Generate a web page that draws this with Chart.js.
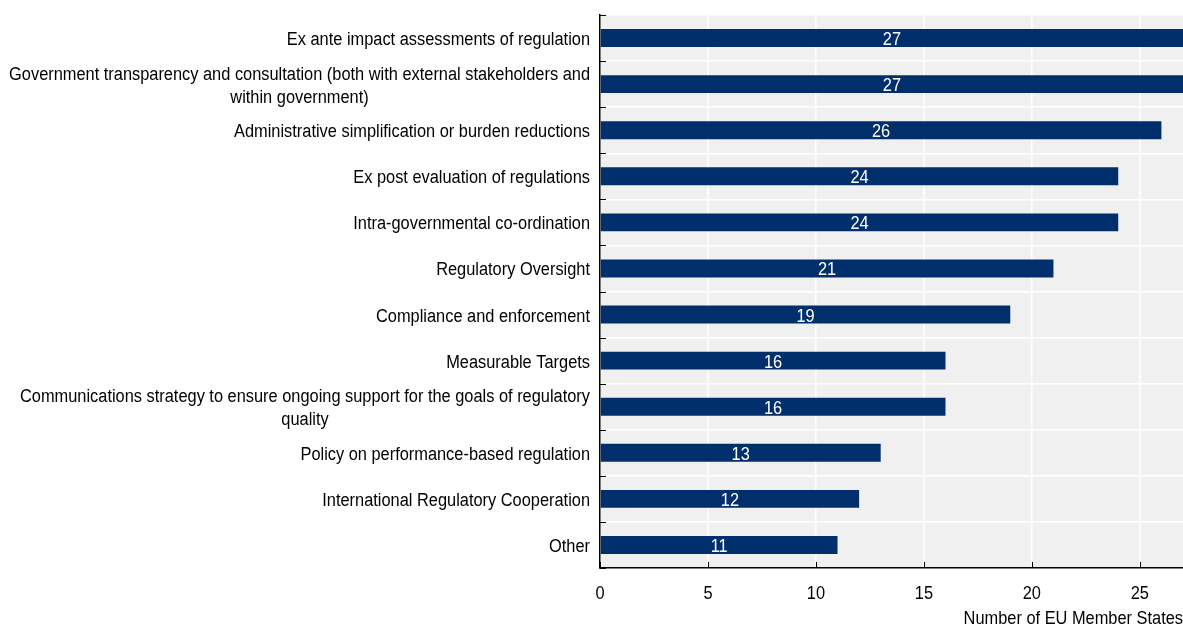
<!DOCTYPE html>
<html lang="en">
<head>
  <meta charset="UTF-8">
  <title>Regulatory policy areas</title>
  <style>
    body { margin: 0; background: #fff; }
    #chart { display: block; }
  </style>
</head>
<body>
  <canvas id="chart" width="1183" height="625"></canvas>

  <script src="https://cdn.jsdelivr.net/npm/chart.js"></script>
  <script>
    // categories (multi-line ones as arrays) and counts
    const categories = [
      'Ex ante impact assessments of regulation',
      ['Government transparency and consultation (both with external stakeholders and', 'within government)'],
      'Administrative simplification or burden reductions',
      'Ex post evaluation of regulations',
      'Intra-governmental co-ordination',
      'Regulatory Oversight',
      'Compliance and enforcement',
      'Measurable Targets',
      ['Communications strategy to ensure ongoing support for the goals of regulatory', 'quality'],
      'Policy on performance-based regulation',
      'International Regulatory Cooperation',
      'Other'
    ];
    const memberStates = [27, 27, 26, 24, 24, 21, 19, 16, 16, 13, 12, 11];
    const xTicks = [0, 5, 10, 15, 20, 25];
    const xTitle = 'Number of EU Member States';

    const FONT = '18px "Liberation Sans", Arial, sans-serif';
    const SQUEEZE = 0.91; // narrow the glyphs, like Arial Narrow
    const BAR = '#002F6C';
    const PLOT_BG = '#f0f0f0';

    // condensed text helper
    function narrowText(ctx, text, x, y, align) {
      ctx.save();
      ctx.translate(x, y);
      ctx.scale(SQUEEZE, 1);
      ctx.textAlign = align;
      ctx.fillText(text, 0, 0);
      ctx.restore();
    }

    // grey plot background
    const plotBackground = {
      id: 'plotBackground',
      beforeDraw(chart) {
        const { ctx, chartArea: a } = chart;
        ctx.save();
        ctx.fillStyle = PLOT_BG;
        ctx.fillRect(a.left, a.top, a.right - a.left, a.bottom - a.top);
        ctx.restore();
      }
    };

    // inward tick marks, all labels and the axis title
    const decorations = {
      id: 'decorations',
      afterDraw(chart) {
        const { ctx, chartArea: a } = chart;
        const x = chart.scales.x, y = chart.scales.y;
        ctx.save();

        // tick marks pointing into the plot
        ctx.strokeStyle = '#000';
        ctx.lineWidth = 1;
        ctx.beginPath();
        const step = (y.getPixelForTick(1) - y.getPixelForTick(0));
        for (let i = 0; i <= categories.length; i++) {
          const py = Math.round(y.getPixelForTick(0) - step / 2 + i * step) + 0.5;
          ctx.moveTo(a.left, py);
          ctx.lineTo(a.left + 6, py);
        }
        xTicks.forEach(v => {
          const px = Math.round(x.getPixelForValue(v)) + 0.5;
          ctx.moveTo(px, a.bottom);
          ctx.lineTo(px, a.bottom - 6);
        });
        ctx.stroke();

        ctx.font = FONT;
        ctx.fillStyle = '#000';
        ctx.textBaseline = 'middle';

        // category labels: block right-aligned, lines centred within it
        const lh = 23;
        categories.forEach((c, i) => {
          const lines = Array.isArray(c) ? c : [c];
          const widest = Math.max(...lines.map(l => ctx.measureText(l).width)) * SQUEEZE;
          const cx = a.left - 10 - widest / 2;
          const cy = y.getPixelForTick(i) + 2;
          lines.forEach((l, j) => {
            narrowText(ctx, l, cx, cy + (j - (lines.length - 1) / 2) * lh, 'center');
          });
        });

        // x tick labels and title
        xTicks.forEach(v => narrowText(ctx, String(v), x.getPixelForValue(v), a.bottom + 26, 'center'));
        narrowText(ctx, xTitle, a.right, a.bottom + 51, 'right');

        // values in the middle of each bar
        ctx.fillStyle = '#fff';
        chart.getDatasetMeta(0).data.forEach((bar, i) => {
          narrowText(ctx, String(memberStates[i]), (bar.x + bar.base) / 2, bar.y + 2, 'center');
        });
        ctx.restore();
      }
    };

    new Chart(document.getElementById('chart'), {
      type: 'bar',
      data: {
        labels: categories,
        datasets: [{
          data: memberStates,
          backgroundColor: BAR,
          borderWidth: 0,
          barPercentage: 0.39,
          categoryPercentage: 1
        }]
      },
      options: {
        indexAxis: 'y',
        responsive: false,
        animation: false,
        layout: { padding: { top: 15, right: 0, left: 0, bottom: 0 } },
        plugins: {
          legend: { display: false },
          tooltip: { enabled: false }
        },
        scales: {
          x: {
            min: 0,
            max: 27,
            afterBuildTicks(scale) {
              scale.ticks = xTicks.map(v => ({ value: v }));
            },
            afterFit(scale) { scale.height = 57; },
            grid: { color: '#fff', lineWidth: 1.5, drawTicks: false },
            border: { display: true, color: '#000', width: 1.5 },
            ticks: { display: false }
          },
          y: {
            afterFit(scale) { scale.width = 600; },
            grid: { color: '#fff', lineWidth: 1.5, offset: true, drawTicks: false },
            border: { display: true, color: '#000', width: 1.5 },
            ticks: { display: false }
          }
        }
      },
      plugins: [plotBackground, decorations]
    });
  </script>
</body>
</html>
